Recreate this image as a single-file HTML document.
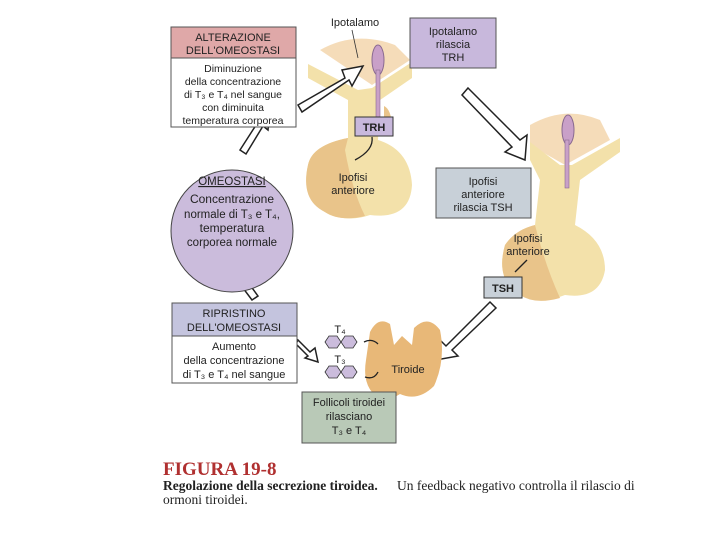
<!DOCTYPE html>
<html><head><meta charset="utf-8"><style>
html,body{margin:0;padding:0;background:#fff;}
svg{display:block;}
text{font-family:"Liberation Sans",sans-serif;fill:#222;}
.s{font-family:"Liberation Serif",serif;}
</style></head><body>
<svg width="720" height="540" viewBox="0 0 720 540" xmlns="http://www.w3.org/2000/svg">
<!-- pituitary 1 -->
<path d="M320 50 Q355 30 395 45 L410 60 L372 85 Z" fill="#f2d3a8" opacity="0.8"/>
<path d="M308 64 L358 90 L372 88 L412 62 L412 78 L380 100 L378 140 Q410 150 412 185 Q410 220 370 215 Q350 222 330 215 Q300 200 308 165 Q312 145 348 138 L348 100 L308 78 Z" fill="#f3e1aa"/>
<path d="M348 138 L345 150 Q352 190 365 216 Q340 222 325 212 Q300 200 308 165 Q312 145 348 138 Z" fill="#e9c48a"/>
<path d="M384 106 Q393 110 392 135 L384 136 Z" fill="#e9c48a"/>
<ellipse cx="378" cy="60" rx="6" ry="15" fill="#c9a0c8" stroke="#8a6a90"/>
<rect x="376" y="70" width="4" height="48" fill="#c9a0c8" stroke="#8a6a90" stroke-width="0.6"/>
<rect x="355" y="117" width="38" height="19" fill="#c8b8dc" stroke="#333"/>
<text x="374" y="131" font-size="11" text-anchor="middle" font-weight="bold">TRH</text>
<path d="M372 137 Q374 150 355 160" stroke="#222" stroke-width="1.3" fill="none"/>
<text x="353" y="181" font-size="11" text-anchor="middle">Ipofisi</text>
<text x="353" y="194" font-size="11" text-anchor="middle">anteriore</text>
<text x="355" y="26" font-size="11" text-anchor="middle">Ipotalamo</text>
<path d="M352 30 L358 58" stroke="#333" stroke-width="0.8"/>
<!-- box Ipotalamo rilascia -->
<rect x="410" y="18" width="86" height="50" fill="#c8b8dc" stroke="#555"/>
<text x="453" y="35" font-size="11" text-anchor="middle">Ipotalamo</text>
<text x="453" y="48" font-size="11" text-anchor="middle">rilascia</text>
<text x="453" y="61" font-size="11" text-anchor="middle">TRH</text>
<!-- pituitary 2 -->
<path d="M530 125 Q565 105 600 120 L610 140 L565 165 L530 145 Z" fill="#f2d3a8" opacity="0.8"/>
<path d="M530 142 L560 165 L572 165 L620 138 L620 152 L580 180 L575 225 Q605 240 605 270 Q600 300 565 295 Q540 305 520 295 Q495 280 505 245 Q515 230 535 225 L540 180 L530 160 Z" fill="#f3e1aa"/>
<path d="M535 225 Q545 265 560 298 Q535 305 520 295 Q495 280 505 245 Q515 230 535 225 Z" fill="#e9c48a"/>
<ellipse cx="568" cy="130" rx="6" ry="15" fill="#c9a0c8" stroke="#8a6a90"/>
<rect x="565" y="140" width="4" height="48" fill="#c9a0c8" stroke="#8a6a90" stroke-width="0.6"/>
<text x="528" y="242" font-size="11" text-anchor="middle">Ipofisi</text>
<text x="528" y="255" font-size="11" text-anchor="middle">anteriore</text>
<path d="M527 260 L515 272" stroke="#222" stroke-width="1.3"/>
<rect x="436" y="168" width="95" height="50" fill="#c8d0d8" stroke="#555"/>
<text x="483" y="185" font-size="11" text-anchor="middle">Ipofisi</text>
<text x="483" y="198" font-size="11" text-anchor="middle">anteriore</text>
<text x="483" y="211" font-size="11" text-anchor="middle">rilascia TSH</text>
<rect x="484" y="277" width="38" height="21" fill="#c8d0d8" stroke="#333"/>
<text x="503" y="292" font-size="11" text-anchor="middle" font-weight="bold">TSH</text>
<!-- arrows -->
<path d="M298 105 L345 78 L342 70 L363 66 L352 86 L349 80 L302 112 Z" fill="#fff" stroke="#222" stroke-width="1.5"/>
<path d="M468 88 L520 140 L527 135 L525 160 L505 152 L512 147 L462 95 Z" fill="#fff" stroke="#222" stroke-width="1.5"/>
<path d="M496 308 L452 350 L458 356 L436 360 L440 340 L446 346 L490 302 Z" fill="#fff" stroke="#222" stroke-width="1.5"/>
<path d="M240 150 L258 122 L252 118 L270 110 L268 130 L263 126 L246 154 Z" fill="#fff" stroke="#222" stroke-width="1.5"/>
<path d="M252 300 L240 284 L234 288 L236 268 L253 278 L247 281 L258 296 Z" fill="#fff" stroke="#222" stroke-width="1.5"/>
<path d="M298 340 L310 352 L315 348 L318 362 L305 358 L308 356 L296 344 Z" fill="#fff" stroke="#222" stroke-width="1.5"/>
<!-- Alterazione box -->
<rect x="171" y="27" width="125" height="31" fill="#dfa8a8" stroke="#555"/>
<rect x="171" y="58" width="125" height="69" fill="#fff" stroke="#555"/>
<text x="233" y="41" font-size="11" text-anchor="middle">ALTERAZIONE</text>
<text x="233" y="54" font-size="11" text-anchor="middle">DELL'OMEOSTASI</text>
<text x="233" y="72" font-size="10.5" text-anchor="middle">Diminuzione</text>
<text x="233" y="85" font-size="10.5" text-anchor="middle">della concentrazione</text>
<text x="233" y="98" font-size="10.5" text-anchor="middle">di T₃ e T₄ nel sangue</text>
<text x="233" y="111" font-size="10.5" text-anchor="middle">con diminuita</text>
<text x="233" y="124" font-size="10.5" text-anchor="middle">temperatura corporea</text>
<!-- Omeostasi circle -->
<circle cx="232" cy="231" r="61" fill="#cbbcdc" stroke="#444"/>
<text x="232" y="185" font-size="11.5" text-anchor="middle" text-decoration="underline">OMEOSTASI</text>
<text x="232" y="203" font-size="12" text-anchor="middle">Concentrazione</text>
<text x="232" y="218" font-size="11.5" text-anchor="middle">normale di T₃ e T₄,</text>
<text x="232" y="232" font-size="12" text-anchor="middle">temperatura</text>
<text x="232" y="246" font-size="11.5" text-anchor="middle">corporea normale</text>
<!-- Ripristino -->
<rect x="172" y="303" width="125" height="33" fill="#c4c4de" stroke="#555"/>
<rect x="172" y="336" width="125" height="47" fill="#fff" stroke="#555"/>
<text x="234" y="317" font-size="11" text-anchor="middle">RIPRISTINO</text>
<text x="234" y="331" font-size="11" text-anchor="middle">DELL'OMEOSTASI</text>
<text x="234" y="350" font-size="11" text-anchor="middle">Aumento</text>
<text x="234" y="364" font-size="11" text-anchor="middle">della concentrazione</text>
<text x="234" y="378" font-size="11" text-anchor="middle">di T₃ e T₄ nel sangue</text>
<!-- hormones -->
<text x="340" y="333" font-size="11" text-anchor="middle">T₄</text>
<text x="340" y="363" font-size="11" text-anchor="middle">T₃</text>
<g fill="#cbbcdc" stroke="#333" stroke-width="0.8">
<polygon points="325,342 329,336 337,336 341,342 337,348 329,348"/>
<polygon points="341,342 345,336 353,336 357,342 353,348 345,348"/>
<polygon points="325,372 329,366 337,366 341,372 337,378 329,378"/>
<polygon points="341,372 345,366 353,366 357,372 353,378 345,378"/>
</g>
<!-- thyroid -->
<path d="M370 332 Q378 316 390 324 L394 345 L402 336 L412 345 L414 328 Q428 314 440 330 Q446 360 434 386 Q418 402 400 394 Q388 402 376 396 Q362 385 366 360 Z" fill="#e8b878"/>
<text x="408" y="373" font-size="11" text-anchor="middle">Tiroide</text>
<path d="M378 344 Q372 338 364 342" stroke="#222" stroke-width="1.3" fill="none"/>
<path d="M378 372 Q374 380 365 377" stroke="#222" stroke-width="1.3" fill="none"/>
<!-- Follicoli -->
<rect x="302" y="392" width="94" height="51" fill="#b9c9b7" stroke="#555"/>
<text x="349" y="406" font-size="11" text-anchor="middle">Follicoli tiroidei</text>
<text x="349" y="420" font-size="11" text-anchor="middle">rilasciano</text>
<text x="349" y="434" font-size="11" text-anchor="middle">T₃ e T₄</text>
<!-- caption -->
<text x="163" y="475" font-size="19" class="s" font-weight="bold" style="fill:#b03030">FIGURA  19-8</text>
<text x="163" y="490" font-size="13.5" class="s" font-weight="bold">Regolazione della secrezione tiroidea.</text>
<text x="397" y="490" font-size="13.5" class="s">Un feedback negativo controlla il rilascio di</text>
<text x="163" y="504" font-size="13.5" class="s">ormoni tiroidei.</text>
</svg>
</body></html>
